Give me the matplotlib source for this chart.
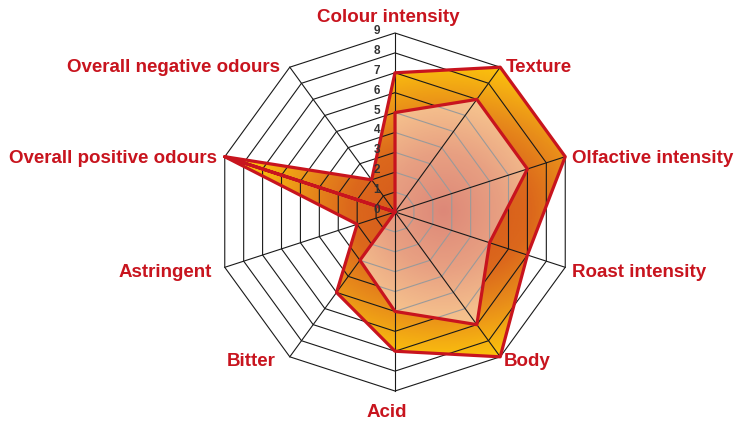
import numpy as np
import matplotlib
matplotlib.use("Agg")
import matplotlib.pyplot as plt
from matplotlib.patches import Polygon
from matplotlib.colors import LinearSegmentedColormap

# sensory attributes, clockwise from the top
attributes = ["Colour intensity", "Texture", "Olfactive intensity", "Roast intensity",
              "Body", "Acid", "Bitter", "Astringent",
              "Overall positive odours", "Overall negative odours"]
outer_scores = [7, 9, 9, 7, 9, 7, 5, 2, 9, 2]
inner_scores = [5, 7, 7, 5, 7, 5, 3, 0, 9, 0]
levels = [0, 1, 2, 3, 4, 5, 6, 7, 8, 9]

RED = "#c8141e"

n = len(attributes)
theta = np.arange(n) * 2 * np.pi / n
vmax = levels[-1]


def to_xy(values):
    values = np.asarray(values, dtype=float)
    return np.column_stack([values * np.sin(theta), values * np.cos(theta)])


def centroid(pts):
    # area centroid (shoelace)
    x, y = pts[:, 0], pts[:, 1]
    x1, y1 = np.roll(x, -1), np.roll(y, -1)
    cross = x * y1 - x1 * y
    a = cross.sum() / 2
    return np.array([((x + x1) * cross).sum() / (6 * a), ((y + y1) * cross).sum() / (6 * a)])


def gradient_fill(ax, pts, cmap, reach, squash, zorder):
    patch = Polygon(pts, closed=True, facecolor="none", edgecolor="none")
    ax.add_patch(patch)
    c = centroid(pts)
    gx, gy = np.meshgrid(np.linspace(-10, 10, 400), np.linspace(-10, 10, 400))
    d = np.clip(np.hypot((gx - c[0]) * squash, gy - c[1]) / reach, 0, 1)
    im = ax.imshow(cmap(d), extent=(-10, 10, -10, 10), origin="lower",
                   interpolation="bilinear", zorder=zorder)
    im.set_clip_path(patch)
    return patch


fig = plt.figure(figsize=(7.41, 4.22), dpi=100)
ax = fig.add_axes([0, 0, 1, 1])
ax.axis("off")

# pixel layout: centre at (395, 212), level 9 at 179 px
s = 179 / vmax
ax.set_xlim(-395 / s, (741 - 395) / s)
ax.set_ylim(-(422 - 212) / s, 212 / s)

outer_cmap = LinearSegmentedColormap.from_list(
    "outer", [(0.0, "#d2521c"), (0.4, "#dc681c"), (0.6, "#e88c1a"),
              (0.78, "#f5b012"), (0.9, "#fdc60a"), (1.0, "#ffd200")])
inner_cmap = LinearSegmentedColormap.from_list(
    "inner", [(0.0, "#dd8878"), (0.45, "#e8a082"), (0.8, "#f4be8c"), (1.0, "#f8cb92")])

outer_pts = to_xy(outer_scores)
inner_pts = to_xy(inner_scores)

gradient_fill(ax, outer_pts, outer_cmap, 8.6, 0.75, 1)

# decagon rings
for lv in levels[1:]:
    ring = to_xy([lv] * n)
    ax.add_patch(Polygon(ring, closed=True, fill=False, edgecolor="#1a1a1a",
                         linewidth=0.8, zorder=2))

inner_patch = gradient_fill(ax, inner_pts, inner_cmap, 6.5, 1.0, 3)

# rings seen through the inner area are grey
for lv in levels[1:]:
    ring = to_xy([lv] * n)
    p = Polygon(ring, closed=True, fill=False, edgecolor="#9a9a9a",
                linewidth=0.8, zorder=3.5)
    ax.add_patch(p)
    p.set_clip_path(inner_patch)

# spokes
tips = to_xy([vmax] * n)
for x, y in tips:
    ax.plot([0, x], [0, y], color="#1a1a1a", linewidth=0.8, zorder=4)

# series outlines
for pts in (outer_pts, inner_pts):
    ax.add_patch(Polygon(pts, closed=True, fill=False, edgecolor=RED,
                         linewidth=2.3, joinstyle="round", zorder=5))

# level numbers along the top spoke
for lv in levels:
    ax.annotate(str(lv), xy=(0, lv), xytext=(-18, 2), textcoords="offset pixels",
                ha="center", va="center", fontsize=8.5, fontweight="bold",
                color="#333333", family="Liberation Sans", zorder=6)

# attribute labels
label_style = [
    ((-7, 11), "center", "baseline"),
    ((6, 2), "left", "center_baseline"),
    ((7, 0), "left", "center_baseline"),
    ((7, -3), "left", "center_baseline"),
    ((4, -3), "left", "center_baseline"),
    ((-8, -26), "center", "baseline"),
    ((-14, -3), "right", "center_baseline"),
    ((-13, -3), "right", "center_baseline"),
    ((-8, 0), "right", "center_baseline"),
    ((-10, 2), "right", "center_baseline"),
]
for name, (x, y), (off, ha, va) in zip(attributes, tips, label_style):
    ax.annotate(name, xy=(x, y), xytext=off, textcoords="offset pixels",
                ha=ha, va=va, fontsize=13.5, fontweight="bold", color=RED,
                family="Liberation Sans", zorder=6)

fig.savefig("out.png", dpi=100)
